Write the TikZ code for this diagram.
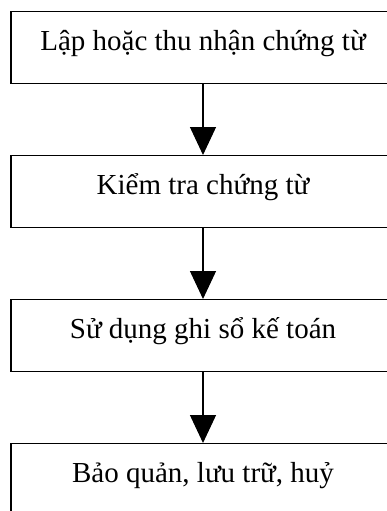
\documentclass[tikz,border=0pt]{standalone}
\usepackage{fontspec}
\setmainfont{Liberation Serif}
\usetikzlibrary{arrows.meta}
\begin{document}
\begin{tikzpicture}[x=1pt,y=1pt,
  stepbox/.style={draw, line width=1.3pt, inner sep=0pt, minimum width=384pt,
    text height=38.5pt, text depth=33.5pt, font=\fontsize{29}{33}\selectfont, anchor=north},
  flow/.style={line width=1.3pt, -{Triangle[width=26pt,length=28pt]}}]
\useasboundingbox (0,0) rectangle (387,-511);
\clip (0,0) rectangle (387,-511);
\node[stepbox] (a) at (203,-11) {Lập hoặc thu nhận chứng từ};
\node[stepbox] (b) at (203,-155) {Kiểm tra chứng từ};
\node[stepbox] (c) at (203,-299) {Sử dụng ghi sổ kế toán};
\node[stepbox] (d) at (203,-443) {Bảo quản, lưu trữ, huỷ};
\draw[flow] (a) -- (b);
\draw[flow] (b) -- (c);
\draw[flow] (c) -- (d);
\end{tikzpicture}
\end{document}
